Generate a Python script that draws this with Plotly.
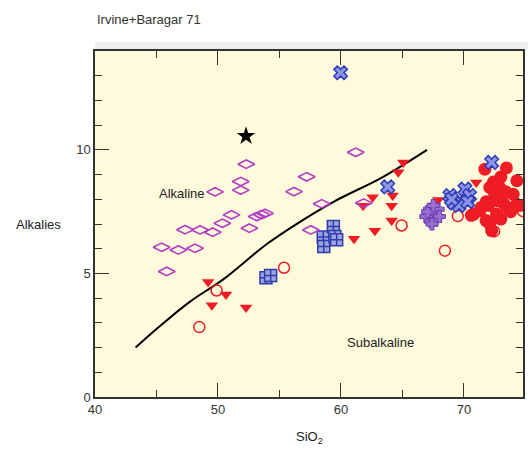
import plotly.graph_objects as go

# Dividing curve (Irvine & Baragar 1971)
curve_x = [43.3, 45.0, 47.7, 50.4, 54.0, 56.7, 59.4, 63.4, 67.0]
curve_y = [2.0, 2.75, 3.85, 4.75, 6.2, 7.1, 7.9, 8.9, 10.0]

diam_x = [52.3, 51.85, 51.85, 49.76, 51.1, 50.35, 49.57, 48.54, 47.32, 45.42, 46.78, 48.13,
          45.83, 52.55, 53.15, 53.55, 53.82, 57.21, 56.18, 58.43, 57.55, 61.2, 61.85, 69.8]
diam_y = [9.42, 8.72, 8.37, 8.3, 7.37, 7.03, 6.67, 6.76, 6.77, 6.06, 5.95, 6.02,
          5.08, 6.83, 7.3, 7.38, 7.43, 8.91, 8.31, 7.82, 6.76, 9.9, 7.85, 7.94]

star_x = [52.28]
star_y = [10.56]

sq_x = [53.9, 54.28, 58.56, 58.6, 59.38, 59.5, 59.65]
sq_y = [4.83, 4.92, 6.47, 6.09, 6.9, 6.49, 6.36]

tri_x = [49.2, 50.65, 49.5, 52.28, 65.07, 64.66, 62.57, 64.2, 61.8, 64.12, 64.12, 62.76, 61.06, 67.9, 71.0]
tri_y = [4.65, 4.15, 3.71, 3.62, 9.49, 9.09, 8.08, 8.15, 7.74, 7.74, 7.14, 6.73, 6.4, 7.97, 8.68]

ocirc_x = [48.48, 49.89, 55.37, 64.93, 68.45, 69.5, 72.45, 74.8]
ocirc_y = [2.83, 4.31, 5.23, 6.94, 5.92, 7.32, 6.7, 7.52]

fcirc_x = [71.7, 73.45, 74.3, 72.1, 72.9, 74.0, 72.9, 73.4, 72.5, 71.8, 72.7, 73.5, 74.3, 74.55,
           71.4, 70.8, 70.6, 71.3, 72.65, 71.8, 72.1, 72.25, 73.0, 73.8, 72.0, 73.2, 72.4, 73.0]
fcirc_y = [9.22, 9.27, 8.75, 8.48, 8.48, 8.2, 8.08, 8.3, 8.2, 7.9, 7.94, 7.67, 7.8, 7.75,
           7.67, 7.4, 7.35, 7.54, 7.4, 7.14, 7.0, 6.73, 7.2, 7.5, 7.75, 7.85, 8.7, 8.9]

xm_x = [59.97, 63.8, 72.25, 68.86, 69.2, 70.08, 70.45, 69.6, 70.3, 69.0]
xm_y = [13.12, 8.5, 9.49, 8.15, 7.85, 8.41, 8.15, 7.75, 7.9, 8.0]

cr_x = [66.9, 67.2, 67.6, 67.9, 67.3, 67.7, 67.05, 68.0, 67.5, 67.4]
cr_y = [7.3, 7.6, 7.4, 7.6, 7.1, 7.15, 7.5, 7.3, 7.75, 7.0]

x_ticks = [40, 50, 60, 70]
y_ticks = [0, 5, 10]

RED = "#EE1C24"
fig = go.Figure()

fig.add_trace(go.Scatter(x=curve_x, y=curve_y, mode="lines", line=dict(color="black", width=2, shape="spline")))
fig.add_trace(go.Scatter(x=fcirc_x, y=fcirc_y, mode="markers",
                         marker=dict(symbol="circle", size=13, color=RED, line=dict(width=0))))
fig.add_trace(go.Scatter(x=ocirc_x, y=ocirc_y, mode="markers",
                         marker=dict(symbol="circle-open", size=11, color=RED, line=dict(width=1.5))))
fig.add_trace(go.Scatter(x=tri_x, y=tri_y, mode="markers",
                         marker=dict(symbol="triangle-down", size=11, color=RED, line=dict(width=0))))
fig.add_trace(go.Scatter(x=sq_x, y=sq_y, mode="markers",
                         marker=dict(symbol="square-cross", size=12, color="#9CA4DC",
                                     line=dict(color="#2E3CB0", width=1.5))))
fig.add_trace(go.Scatter(x=cr_x, y=cr_y, mode="markers",
                         marker=dict(symbol="cross", size=10, color="#9B6FD0",
                                     line=dict(color="#6A3DB0", width=1))))
fig.add_trace(go.Scatter(x=diam_x, y=diam_y, mode="markers",
                         marker=dict(symbol="diamond-wide-open", size=12, color="#B43CC4", line=dict(width=1.6))))
fig.add_trace(go.Scatter(x=xm_x, y=xm_y, mode="markers",
                         marker=dict(symbol="x", size=12, color="#8C94E4",
                                     line=dict(color="#2E3CB8", width=1.5))))
fig.add_trace(go.Scatter(x=star_x, y=star_y, mode="markers",
                         marker=dict(symbol="star", size=14, color="black", line=dict(width=0))))

axis_common = dict(showgrid=False, zeroline=False, showline=True, linecolor="#333333", linewidth=1.5,
                   mirror="ticks", ticks="inside", tickcolor="#333333", tickwidth=1.2, ticklen=14,
                   automargin=False,
                   tickfont=dict(family="Arial", size=13, color="#333333"))

fig.update_xaxes(range=[40, 74.8], tickvals=x_ticks, ticktext=[str(v) for v in x_ticks],
                 minor=dict(dtick=5, ticks="inside", ticklen=7, tickcolor="#333333"),
                 **axis_common)
fig.update_yaxes(range=[0, 14], tickvals=y_ticks, ticktext=[str(v) for v in y_ticks],
                 minor=dict(dtick=1, ticks="inside", ticklen=7, tickcolor="#333333"),
                 **axis_common)

fig.add_annotation(x=47.07, y=8.23, text="Alkaline", showarrow=False,
                   font=dict(family="Arial", size=13, color="#222222"))
fig.add_annotation(x=63.25, y=2.22, text="Subalkaline", showarrow=False,
                   font=dict(family="Arial", size=13, color="#222222"))
fig.add_annotation(xref="paper", yref="paper", x=-0.075, y=0.5, xanchor="right", yanchor="middle",
                   text="Alkalies", showarrow=False, font=dict(family="Arial", size=13, color="#222222"))
fig.add_annotation(xref="paper", yref="paper", x=(309 - 95) / 428, y=-(437 - 397) / 346,
                   xanchor="center", yanchor="middle", text="SiO<sub>2</sub>", showarrow=False,
                   font=dict(family="Arial", size=13, color="#222222"))
fig.add_annotation(xref="paper", yref="paper", x=0.0, y=1 + (51 - 20) / 346,
                   xanchor="left", yanchor="middle", text="Irvine+Baragar 71", showarrow=False,
                   font=dict(family="Arial", size=13, color="#333333"))
fig.add_shape(type="rect", xref="paper", yref="paper", x0=0, x1=1.02, y0=1.004, y1=1.026,
              fillcolor="#EDEDED", line=dict(width=0), layer="below")

fig.update_layout(
    width=528, height=449,
    margin=dict(l=95, r=5, t=51, b=52, autoexpand=False),
    paper_bgcolor="white", plot_bgcolor="#FFFADC",
    showlegend=False,
)

fig.write_html("out.html", config={"displayModeBar": False},
               post_script="document.body.style.margin='0';document.documentElement.style.overflow='hidden';")
